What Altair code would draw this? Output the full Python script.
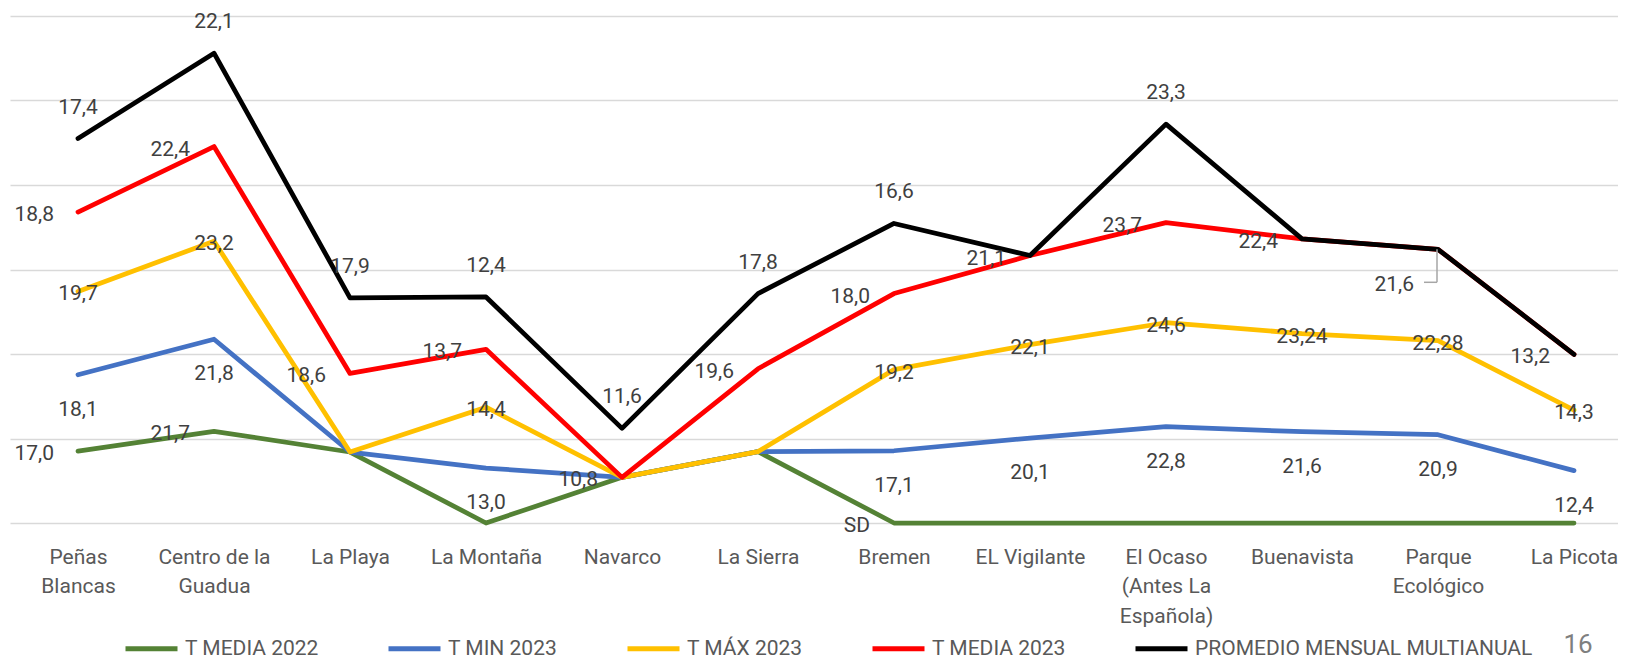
import json
import altair as alt
import pandas as pd

# ---------------- data ----------------
categories = [
    "Peñas\nBlancas", "Centro de la\nGuadua", "La Playa", "La Montaña", "Navarco",
    "La Sierra", "Bremen", "EL Vigilante", "El Ocaso\n(Antes La\nEspañola)",
    "Buenavista", "Parque\nEcológico", "La Picota",
]

series_names = ["T MEDIA 2022", "T MIN 2023", "T MÁX 2023", "T MEDIA 2023",
                "PROMEDIO MENSUAL MULTIANUAL"]
series_colors = ["#548235", "#4472C4", "#FFC000", "#FF0000", "#000000"]

t_media_2022 = [17.0, 21.7, 16.8, None, 10.8, 16.9, None, None, None, None, None, None]
t_min_2023 = [18.1, 21.8, None, 13.0, None, None, 17.1, 20.1, 22.8, 21.6, 20.9, 12.4]
t_max_2023 = [19.7, 23.2, None, 14.4, None, None, 19.2, 22.1, 24.6, 23.24, 22.28, 14.3]
t_media_2023 = [18.8, 22.4, 18.6, 13.7, None, 19.6, 18.0, 21.1, 23.7, 22.4, 21.6, 13.2]
promedio_multianual = [17.4, 22.1, 17.9, 12.4, 11.6, 17.8, 16.6, None, 23.3, None, None, None]

series_values = [t_media_2022, t_min_2023, t_max_2023, t_media_2023, promedio_multianual]

# label text that differs from the value (series index, category index)
label_override = {(0, 2): "", (0, 5): "", (0, 6): "SD"}
page_number = "16"


def fmt(v):
    s = f"{v:.1f}" if abs(v * 10 - round(v * 10)) < 1e-9 else f"{v:.2f}"
    return s.replace(".", ",")


rows = []
for s_i, (name, vals) in enumerate(zip(series_names, series_values)):
    for c_i, v in enumerate(vals):
        if (s_i, c_i) in label_override:
            lab = label_override[(s_i, c_i)]
        elif v is None:
            lab = ""
        else:
            lab = fmt(v)
        rows.append(dict(series=name, order=s_i, idx=c_i,
                         v=0.0 if v is None else v, label=lab))
df = pd.DataFrame(rows)

# ---------------- encodings ----------------
FONT = "Roboto"
label_arrays = json.dumps([c.split("\n") for c in categories], ensure_ascii=False)

x_enc = alt.X(
    "idx:Q",
    scale=alt.Scale(domain=[-0.5, 11.3235], nice=False, zero=False),
    axis=alt.Axis(
        values=list(range(len(categories))),
        labelExpr=label_arrays + "[datum.value]",
        grid=False, ticks=False, tickSize=0, domain=False, title=None,
        labelPadding=23, labelLineHeight=29.5, labelFontSize=21, labelFont=FONT,
        labelColor="#595959", labelAngle=0, labelOverlap=False, labelFlush=False,
        labelAlign="center", labelBaseline="top",
    ),
)
y_enc = alt.Y(
    "y1:Q",
    scale=alt.Scale(domain=[0, 120], nice=False),
    axis=alt.Axis(
        values=[0, 20, 40, 60, 80, 100, 120], labels=False, ticks=False,
        domain=False, grid=True, gridColor="#D9D9D9", gridWidth=1.5, title=None,
    ),
)
color_enc = alt.Color(
    "series:N",
    scale=alt.Scale(domain=series_names, range=series_colors),
    legend=alt.Legend(
        orient="none", legendX=113, legendY=604, direction="horizontal",
        symbolType="stroke", symbolStrokeWidth=5, symbolSize=2704,
        labelFontSize=21, labelFont=FONT, labelColor="#595959", labelOffset=5,
        columnPadding=59, padding=0, title=None, labelLimit=0,
    ),
)

base = alt.Chart()

line_layers = []
for name in series_names:
    line_layers.append(
        base.transform_filter(alt.datum.series == name)
        .mark_line(strokeWidth=4.75, strokeCap="round", strokeJoin="round")
        .encode(x=x_enc, y=y_enc, color=color_enc, order=alt.Order("idx:Q"))
    )

label_style = {
    0: dict(align="right", dx=-24, dy=3),
    1: dict(align="center", dx=0, dy=35),
    2: dict(align="center", dx=0, dy=3),
    3: dict(align="right", dx=-24, dy=3),
    4: dict(align="center", dx=0, dy=-31),
}
moved_cat = 10  # red label pulled down with a leader line

text_layers = []
for s_i, name in enumerate(series_names):
    st = label_style[s_i]
    cond = (alt.datum.series == name) & (alt.datum.label != "")
    if s_i == 3:
        cond = cond & (alt.datum.idx != moved_cat)
    text_layers.append(
        base.transform_filter(cond)
        .mark_text(font=FONT, fontSize=21, color="#404040", baseline="middle", **st)
        .encode(x=x_enc, y=y_enc, text="label:N")
    )

moved = (alt.datum.series == series_names[3]) & (alt.datum.idx == moved_cat)
text_layers.append(
    base.transform_filter(moved)
    .mark_text(font=FONT, fontSize=21, color="#404040", baseline="middle",
               align="right", dx=-24, dy=36)
    .encode(x=x_enc, y=y_enc, text="label:N")
)
leader_v = (
    base.transform_filter(moved)
    .mark_rule(color="#A6A6A6", strokeWidth=1.5, xOffset=-1, y2Offset=33)
    .encode(x=x_enc, y=y_enc, y2=alt.Y2("y1:Q"))
)
leader_h = (
    base.transform_filter(moved)
    .mark_rule(color="#A6A6A6", strokeWidth=1.5, xOffset=-14, x2Offset=-1, yOffset=33)
    .encode(x=x_enc, x2=alt.X2("idx:Q"), y=y_enc)
)

main = alt.layer(*line_layers, leader_v, leader_h, *text_layers, data=df).transform_stack(
    stack="v", groupby=["idx"], as_=["y0", "y1"],
    sort=[alt.SortField("order", order="ascending")],
)

page = alt.Chart(pd.DataFrame({"t": [page_number]})).mark_text(
    font=FONT, fontSize=26, color="#7F7F7F", align="center", baseline="middle"
).encode(text="t:N", x=alt.value(1568), y=alt.value(629))

chart = (
    alt.layer(main, page)
    .properties(
        width=1608, height=507,
        padding={"left": 2, "top": 8, "right": 0, "bottom": 137},
        autosize=alt.AutoSizeParams(type="none"),
        background="white",
    )
    .configure_view(stroke=None)
)

chart.save("out.html", embed_options={"renderer": "svg", "actions": False})
